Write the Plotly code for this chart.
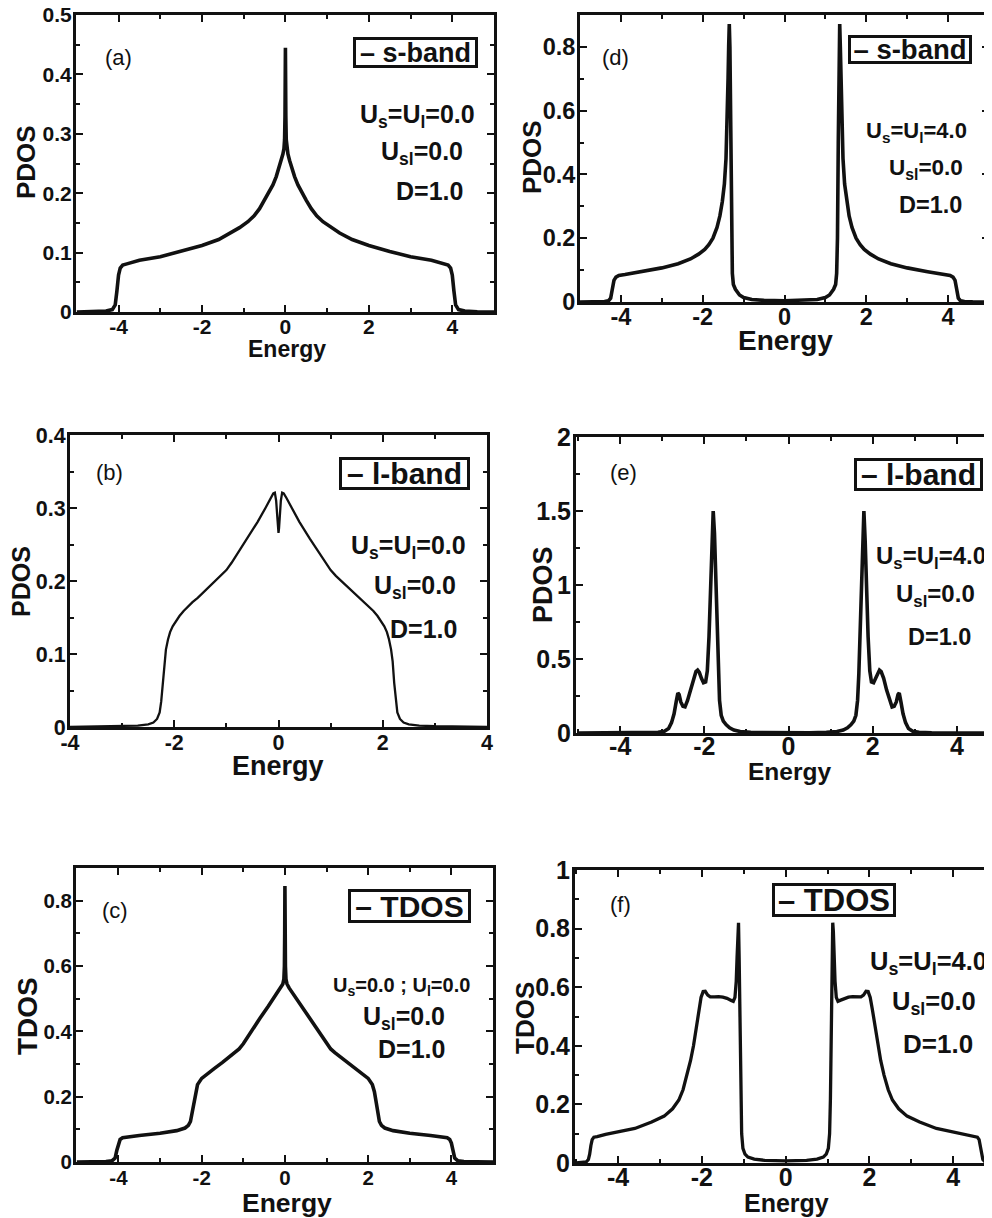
import plotly.graph_objects as go

W, H = 992, 1218
OFF = 8  # the page places the figure 8 px in from the top-left corner

# ---------------- data ----------------
# (a) s-band PDOS, Us=Ul=0
energy_a = [-5.0, -4.6, -4.3, -4.15, -4.08, -4.04, -4.0, -3.96, -3.9, -3.8, -3.5, -3.0, -2.5, -2.0, -1.6,
            -1.3, -1.1, -0.9, -0.75, -0.62, -0.5, -0.4, -0.3, -0.22, -0.15, -0.1, -0.06, -0.035, -0.02,
            -0.01, -0.004, 0.0,
            0.004, 0.01, 0.02, 0.035, 0.06, 0.1, 0.15, 0.22, 0.3, 0.4, 0.5, 0.62, 0.75, 0.9, 1.1, 1.3,
            1.6, 2.0, 2.5, 3.0, 3.5, 3.8, 3.9, 3.96, 4.0, 4.04, 4.08, 4.15, 4.3, 4.6, 5.0]
pdos_s_U0 = [0.0, 0.0005, 0.0015, 0.004, 0.012, 0.035, 0.062, 0.074, 0.079, 0.081, 0.087, 0.093, 0.102, 0.112, 0.122,
             0.133, 0.142, 0.152, 0.162, 0.174, 0.188, 0.2, 0.214, 0.228, 0.243, 0.255, 0.266, 0.275, 0.29,
             0.33, 0.4, 0.445,
             0.4, 0.33, 0.29, 0.275, 0.266, 0.255, 0.243, 0.228, 0.214, 0.2, 0.188, 0.174, 0.162, 0.152, 0.142, 0.133,
             0.122, 0.112, 0.102, 0.093, 0.087, 0.081, 0.079, 0.074, 0.062, 0.035, 0.012, 0.004, 0.0015, 0.0005, 0.0]

# (b) l-band PDOS, Us=Ul=0
energy_b = [-4.0, -3.5, -3.0, -2.7, -2.5, -2.4, -2.33, -2.28, -2.25, -2.22, -2.19, -2.16, -2.12, -2.08, -2.03,
            -1.97, -1.9, -1.82, -1.74, -1.65, -1.55, -1.4, -1.25, -1.1, -1.0, -0.9, -0.8, -0.6, -0.4,
            -0.25, -0.15, -0.1, -0.07, -0.045, -0.025, -0.01, 0.0,
            0.01, 0.025, 0.045, 0.07, 0.1, 0.15, 0.25, 0.4, 0.6, 0.8, 0.9, 1.0, 1.1, 1.25, 1.4, 1.55, 1.65,
            1.74, 1.82, 1.9, 1.97, 2.03, 2.08, 2.12, 2.16, 2.19, 2.22, 2.25, 2.28, 2.33, 2.4, 2.5, 2.7,
            3.0, 3.5, 4.0]
pdos_l_U0 = [0.0, 0.0004, 0.001, 0.002, 0.0035, 0.006, 0.011, 0.02, 0.035, 0.06, 0.09, 0.106, 0.12, 0.13, 0.138,
             0.145, 0.152, 0.159, 0.165, 0.171, 0.177, 0.187, 0.197, 0.207, 0.215, 0.225, 0.236, 0.258, 0.281,
             0.3, 0.314, 0.32, 0.321, 0.31, 0.29, 0.272, 0.266,
             0.272, 0.29, 0.31, 0.321, 0.32, 0.314, 0.3, 0.281, 0.258, 0.236, 0.225, 0.215, 0.207, 0.197, 0.187, 0.177, 0.171,
             0.165, 0.159, 0.152, 0.145, 0.138, 0.13, 0.12, 0.106, 0.09, 0.06, 0.035, 0.02, 0.011, 0.006, 0.0035, 0.002,
             0.001, 0.0004, 0.0]

# (c) TDOS, Us=Ul=0
energy_c = [-5.0, -4.6, -4.3, -4.15, -4.08, -4.04, -4.0, -3.96, -3.9, -3.8, -3.5, -3.0, -2.6, -2.4, -2.32,
            -2.27, -2.23, -2.19, -2.15, -2.1, -2.0, -1.85, -1.7, -1.5, -1.3, -1.2, -1.1, -1.0, -0.8, -0.6,
            -0.4, -0.2, -0.1, -0.05, -0.025, -0.012, -0.005, 0.0,
            0.005, 0.012, 0.025, 0.05, 0.1, 0.2, 0.4, 0.6, 0.8, 1.0, 1.1, 1.2, 1.3, 1.5, 1.7, 1.85, 2.0,
            2.1, 2.15, 2.19, 2.23, 2.27, 2.32, 2.4, 2.6, 3.0, 3.5, 3.8, 3.9, 3.96, 4.0, 4.04, 4.08, 4.15,
            4.3, 4.6, 5.0]
tdos_U0 = [0.0, 0.0005, 0.0015, 0.004, 0.012, 0.035, 0.058, 0.069, 0.074, 0.076, 0.081, 0.088, 0.096, 0.104, 0.112,
           0.124, 0.15, 0.185, 0.215, 0.237, 0.256, 0.272, 0.286, 0.305, 0.325, 0.335, 0.346, 0.362, 0.403, 0.44,
           0.477, 0.514, 0.533, 0.545, 0.56, 0.6, 0.7, 0.845,
           0.7, 0.6, 0.56, 0.545, 0.533, 0.514, 0.477, 0.44, 0.403, 0.362, 0.346, 0.335, 0.325, 0.305, 0.286, 0.272, 0.256,
           0.237, 0.215, 0.185, 0.15, 0.124, 0.112, 0.104, 0.096, 0.088, 0.081, 0.076, 0.074, 0.069, 0.058, 0.035, 0.012, 0.004,
           0.0015, 0.0005, 0.0]

# (d) s-band PDOS, Us=Ul=4
energy_d = [-5.0, -4.6, -4.4, -4.3, -4.25, -4.21, -4.17, -4.12, -4.05, -3.9, -3.5, -3.0, -2.6, -2.3, -2.1,
            -1.95, -1.85, -1.75, -1.65, -1.58, -1.52, -1.47, -1.43, -1.4, -1.38, -1.365, -1.35, -1.335,
            -1.315, -1.295, -1.275, -1.25, -1.2, -1.1, -1.0, -0.8, -0.5, 0.0,
            0.5, 0.8, 1.0, 1.1, 1.2, 1.25, 1.275, 1.295, 1.315, 1.335, 1.35, 1.365, 1.38, 1.4, 1.43, 1.47,
            1.52, 1.58, 1.65, 1.75, 1.85, 1.95, 2.1, 2.3, 2.6, 3.0, 3.5, 3.9, 4.05, 4.12, 4.17, 4.21, 4.25,
            4.3, 4.4, 4.6, 5.0]
pdos_s_U4 = [0.0, 0.0005, 0.0015, 0.004, 0.012, 0.04, 0.068, 0.078, 0.083, 0.086, 0.095, 0.107, 0.12, 0.135, 0.15,
             0.165, 0.18, 0.2, 0.234, 0.27, 0.315, 0.37, 0.45, 0.56, 0.7, 0.8, 0.872, 0.8,
             0.5, 0.2, 0.09, 0.055, 0.04, 0.022, 0.014, 0.008, 0.005, 0.004,
             0.005, 0.008, 0.014, 0.022, 0.04, 0.055, 0.09, 0.2, 0.5, 0.8, 0.872, 0.8, 0.7, 0.56, 0.45, 0.37,
             0.315, 0.27, 0.234, 0.2, 0.18, 0.165, 0.15, 0.135, 0.12, 0.107, 0.095, 0.086, 0.083, 0.078, 0.068, 0.04, 0.012,
             0.004, 0.0015, 0.0005, 0.0]

# (e) l-band PDOS, Us=Ul=4
energy_e = [-5.0, -4.0, -3.4, -3.1, -2.95, -2.85, -2.78, -2.72, -2.67, -2.63, -2.6, -2.56, -2.51, -2.46, -2.4,
            -2.33, -2.26, -2.2, -2.16, -2.12, -2.07, -2.02, -1.97, -1.93, -1.89, -1.85, -1.82, -1.79, -1.76,
            -1.73, -1.7, -1.67, -1.64, -1.6, -1.55, -1.48, -1.4, -1.3, -1.15, -0.9, -0.5, 0.0,
            0.5, 0.9, 1.15, 1.3, 1.4, 1.48, 1.55, 1.6, 1.64, 1.67, 1.7, 1.73, 1.76, 1.79, 1.82, 1.85, 1.89,
            1.93, 1.97, 2.02, 2.07, 2.12, 2.16, 2.2, 2.26, 2.33, 2.4, 2.46, 2.51, 2.56, 2.6, 2.63, 2.67,
            2.72, 2.78, 2.85, 2.95, 3.1, 3.4, 4.0, 5.0]
pdos_l_U4 = [0.0, 0.0005, 0.002, 0.005, 0.012, 0.03, 0.07, 0.13, 0.21, 0.27, 0.26, 0.21, 0.18, 0.176, 0.22,
             0.29, 0.37, 0.415, 0.425, 0.41, 0.37, 0.34, 0.345, 0.42, 0.65, 1.0, 1.3, 1.5, 1.35,
             1.05, 0.7, 0.4, 0.22, 0.12, 0.08, 0.055, 0.035, 0.02, 0.01, 0.004, 0.002, 0.001,
             0.002, 0.004, 0.01, 0.02, 0.035, 0.055, 0.08, 0.12, 0.22, 0.4, 0.7, 1.05, 1.35, 1.5, 1.3, 1.0, 0.65,
             0.42, 0.345, 0.34, 0.37, 0.41, 0.425, 0.415, 0.37, 0.29, 0.22, 0.176, 0.18, 0.21, 0.26, 0.27, 0.21,
             0.13, 0.07, 0.03, 0.012, 0.005, 0.002, 0.0005, 0.0]

# (f) TDOS, Us=Ul=4
energy_f = [-5.0, -4.85, -4.76, -4.71, -4.68, -4.65, -4.62, -4.58, -4.5, -4.3, -4.0, -3.6, -3.2, -2.9, -2.7,
            -2.55, -2.45, -2.35, -2.27, -2.2, -2.13, -2.07, -2.02, -1.97, -1.92, -1.86, -1.8, -1.7, -1.6,
            -1.5, -1.4, -1.3, -1.25, -1.21, -1.18, -1.16, -1.14, -1.125, -1.11, -1.09, -1.07, -1.05, -1.02,
            -0.97, -0.9, -0.75, -0.5, 0.0,
            0.5, 0.75, 0.9, 0.97, 1.02, 1.05, 1.07, 1.09, 1.11, 1.125, 1.14, 1.16, 1.18, 1.21, 1.25, 1.3,
            1.4, 1.5, 1.6, 1.7, 1.8, 1.86, 1.92, 1.97, 2.02, 2.07, 2.13, 2.2, 2.27, 2.35, 2.45, 2.55, 2.7,
            2.9, 3.2, 3.6, 4.0, 4.3, 4.5, 4.58, 4.62, 4.65, 4.68, 4.71, 4.76, 4.85, 5.0]
tdos_U4 = [0.0, 0.001, 0.004, 0.012, 0.03, 0.06, 0.08, 0.088, 0.09, 0.098, 0.106, 0.118, 0.14, 0.16, 0.185,
           0.215, 0.25, 0.3, 0.35, 0.40, 0.47, 0.525, 0.565, 0.585, 0.586, 0.573, 0.567, 0.567, 0.568,
           0.566, 0.562, 0.555, 0.552, 0.565, 0.62, 0.7, 0.79, 0.82, 0.7, 0.45, 0.22, 0.1, 0.05,
           0.03, 0.02, 0.013, 0.009, 0.007,
           0.009, 0.013, 0.02, 0.03, 0.05, 0.1, 0.22, 0.45, 0.7, 0.82, 0.79, 0.7, 0.62, 0.565, 0.552, 0.555,
           0.562, 0.566, 0.568, 0.567, 0.567, 0.573, 0.586, 0.585, 0.565, 0.525, 0.47, 0.40, 0.35, 0.3, 0.25, 0.215, 0.185,
           0.16, 0.14, 0.118, 0.106, 0.098, 0.09, 0.088, 0.08, 0.06, 0.03, 0.012, 0.004, 0.001, 0.0]

x_tick_vals = [-4, -2, 0, 2, 4]
x_tick_text = ["-4", "-2", "0", "2", "4"]
series_names = ["s-band", "l-band", "TDOS", "s-band", "l-band", "TDOS"]
panel_labels = ["(a)", "(b)", "(c)", "(d)", "(e)", "(f)"]
y_titles = ["PDOS", "PDOS", "TDOS", "PDOS", "PDOS", "TDOS"]

FONT = "Liberation Sans, Arial, Helvetica, sans-serif"
INK = "#111111"


def fx(px):
    """screen x pixel -> paper fraction"""
    return (px - OFF) / W


def fy(py):
    """screen y pixel -> paper fraction"""
    return 1 - (py - OFF) / H


# ---------------- layout of panels (screen pixel boxes: left, right, top, bottom) ----------------
panels = [
    dict(x=energy_a, y=pdos_s_U0, lw=3.6, box=(76, 494, 15, 312), xr=[-5.02, 5.0], yr=[0, 0.5], ydt=0.1, tfs=21, xso=-6),
    dict(x=energy_b, y=pdos_l_U0, lw=2.3, box=(70, 487, 435, 727), xr=[-4, 4], yr=[0, 0.4], ydt=0.1, tfs=21.5, xso=-6),
    dict(x=energy_c, y=tdos_U0, lw=3.6, box=(76, 493, 868, 1162), xr=[-5.02, 5.0], yr=[0, 0.9], ydt=0.2, tfs=20.5, xso=-5),
    dict(x=energy_d, y=pdos_s_U4, lw=3.6, box=(580, 989, 15, 302), xr=[-5.0, 5.0], yr=[0, 0.9], ydt=0.2, tfs=23.5, xso=-8),
    dict(x=energy_e, y=pdos_l_U4, lw=3.6, box=(576, 999, 437, 733), xr=[-5.05, 5.0], yr=[0, 2.0], ydt=0.5, tfs=25, xso=-11),
    dict(x=energy_f, y=tdos_U4, lw=3.3, box=(575, 995, 870, 1163), xr=[-5.03, 5.0], yr=[0, 1.0], ydt=0.2, tfs=25, xso=-10),
]

fig = go.Figure()
layout = dict(
    width=W, height=H, margin=dict(l=0, r=0, t=0, b=0, pad=0, autoexpand=False),
    paper_bgcolor="white", plot_bgcolor="white", showlegend=False,
    font=dict(family=FONT, color=INK),
)

for i, p in enumerate(panels):
    n = "" if i == 0 else str(i + 1)
    l, r, t, b = p["box"]
    fig.add_trace(go.Scatter(
        x=p["x"], y=p["y"], mode="lines", name=series_names[i],
        line=dict(color=INK, width=p["lw"]),
        xaxis="x" + n, yaxis="y" + n, showlegend=False,
    ))
    common = dict(
        showline=True, linewidth=3, linecolor=INK, mirror="ticks",
        ticks="inside", ticklen=7, tickwidth=2, tickcolor=INK,
        showgrid=False, zeroline=False, automargin=False, ticklabeloverflow="allow",
        tickfont=dict(family=FONT, size=p["tfs"], color=INK, weight="bold"),
    )
    layout["xaxis" + n] = dict(
        common, domain=[fx(l), fx(r)], range=p["xr"], anchor="y" + n,
        tickmode="array", tickvals=x_tick_vals, ticktext=x_tick_text, ticklabelstandoff=p["xso"],
        minor=dict(tickmode="linear", tick0=1, dtick=2, ticks="inside", ticklen=4, tickwidth=2, tickcolor=INK),
    )
    layout["yaxis" + n] = dict(
        common, domain=[fy(b), fy(t)], range=p["yr"], anchor="x" + n,
        tickmode="linear", tick0=0, dtick=p["ydt"], ticklabelstandoff=-3,
        minor=dict(tickmode="linear", tick0=0, dtick=p["ydt"] / 2, ticks="inside", ticklen=4, tickwidth=2, tickcolor=INK),
    )

fig.update_layout(**layout)


def note(text, x, y, size, bold=True, angle=0, **kw):
    fig.add_annotation(
        text=text, x=fx(x), y=fy(y), xref="paper", yref="paper",
        xanchor="center", yanchor="middle", showarrow=False, textangle=angle,
        font=dict(family=FONT, size=size, color=INK, weight="bold" if bold else "normal"), **kw,
    )


# panel labels
for lab, (x, y) in zip(panel_labels, [(118, 58), (109, 473), (115, 910), (615, 58), (623, 473), (620, 904)]):
    note(lab, x, y, 22, bold=False)

# legend boxes (series name with line sample)
legend_specs = [
    ((415.5, 52.5), 27, 119, 25),
    ((404.5, 473.5), 30, 125, 27),
    ((409.5, 906), 30, 117, 28),
    ((910, 49.5), 27.5, 118, 23),
    ((918.5, 474.5), 30, 123, 27),
    ((834, 900), 31, 118, 28),
]
for name, ((x, y), fs, bw, bh) in zip(series_names, legend_specs):
    note("\u2013 " + name, x, y, fs, width=bw, height=bh, bordercolor=INK, borderwidth=3, borderpad=0, bgcolor="white")

# axis titles
energy_pos = [((287, 349), 23), ((278, 766), 27), ((287, 1203), 26.5), ((785, 340), 28), ((789, 771), 24.5), ((786, 1203), 25)]
for (x, y), fs in energy_pos:
    note("Energy", x, y, fs)
ytitle_pos = [((26, 162), 26), ((21, 582), 25), ((27, 1016), 28), ((532, 157), 26), ((543, 585), 27), ((525, 1018), 26)]
for t, ((x, y), fs) in zip(y_titles, ytitle_pos):
    note(t, x, y, fs, angle=-90)

# parameter texts
L0 = "U<sub>s</sub>=U<sub>l</sub>=0.0"
L4 = "U<sub>s</sub>=U<sub>l</sub>=4.0"
Lc = "U<sub>s</sub>=0.0 ; U<sub>l</sub>=0.0"
Lsl = "U<sub>sl</sub>=0.0"
LD = "D=1.0"
params = [
    [(L0, 417.5, 116, 25), (Lsl, 422, 153, 25), (LD, 429.5, 190.5, 25)],
    [(L0, 408.5, 547, 25), (Lsl, 414.5, 587, 25), (LD, 423, 628.5, 25)],
    [(Lc, 401, 986, 20), (Lsl, 404, 1018, 25), (LD, 411.5, 1049, 25)],
    [(L4, 916, 132, 22), (Lsl, 926, 169, 22.5), (LD, 930, 205, 23.5)],
    [(L4, 931, 557, 24), (Lsl, 935.5, 595, 24), (LD, 939, 636.5, 23.5)],
    [(L4, 928, 963, 25.5), (Lsl, 933.5, 1003, 25.5), (LD, 938, 1044, 26)],
]
for group in params:
    for txt, x, y, fs in group:
        note(txt, x, y, fs)

fig.write_html("out.html")
